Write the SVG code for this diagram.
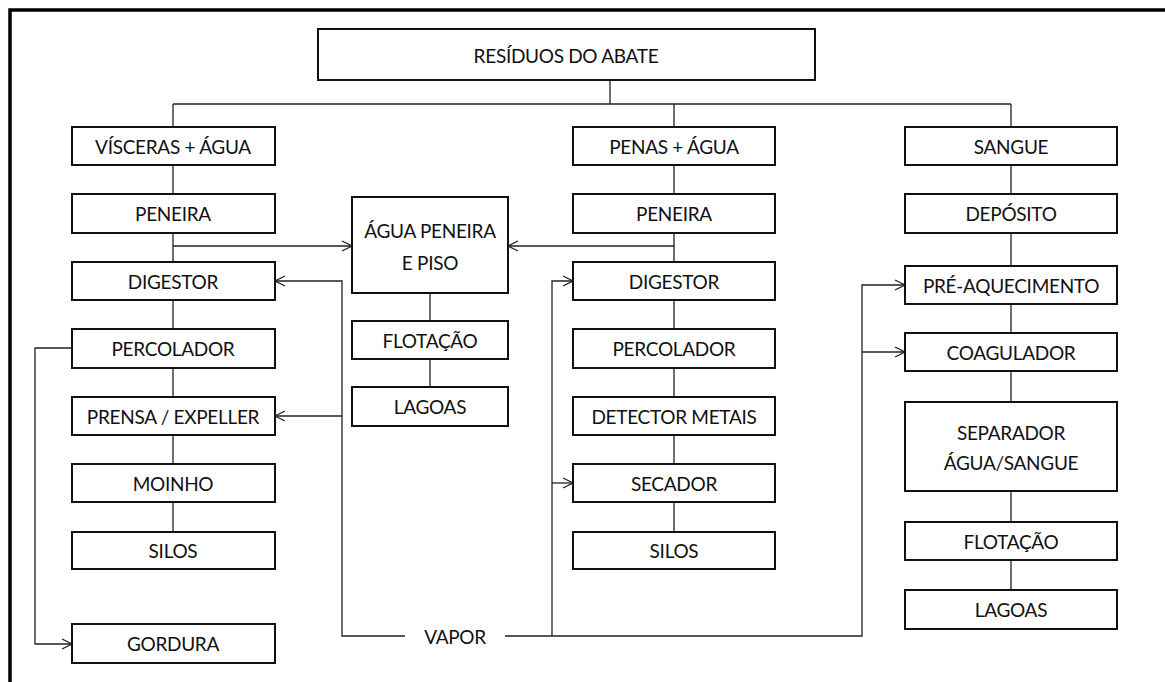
<svg xmlns="http://www.w3.org/2000/svg" width="1165" height="682" viewBox="0 0 1165 682">
<defs>
<style>
.box{fill:#fff;stroke:#111;stroke-width:2}
.t{font-family:Lato,"Liberation Sans",sans-serif;font-size:19px;letter-spacing:-0.3px;fill:#111;text-anchor:middle;dominant-baseline:central}
.ln{fill:none;stroke:#222;stroke-width:1.3}
</style>
<marker id="ar" viewBox="0 0 12 12" refX="11" refY="6" markerWidth="12" markerHeight="12" markerUnits="userSpaceOnUse" orient="auto">
<path d="M1,1 L11,6 L1,11" fill="none" stroke="#222" stroke-width="1.3"/>
</marker>
</defs>
<rect width="1165" height="682" fill="#fff"/>
<path d="M10,690 V10 H1175" fill="none" stroke="#000" stroke-width="3.5"/>
<g id="connectors">
<path class="ln" d="M610,80 V104 M173,104 H1011 M173,104 V532 M674,104 V532 M1011,104 V590 M430,293 V387"/>
<path class="ln" d="M173,246 H352" marker-end="url(#ar)"/>
<path class="ln" d="M674,246 H508" marker-end="url(#ar)"/>
<path class="ln" d="M405,636 H342 V281 H275" marker-end="url(#ar)"/>
<path class="ln" d="M342,416 H275" marker-end="url(#ar)"/>
<path class="ln" d="M505,636 H862 V285 H905" marker-end="url(#ar)"/>
<path class="ln" d="M862,352 H905" marker-end="url(#ar)"/>
<path class="ln" d="M552,636 V281 H573" marker-end="url(#ar)"/>
<path class="ln" d="M552,483 H573" marker-end="url(#ar)"/>
<path class="ln" d="M72,348 H35 V644 H72" marker-end="url(#ar)"/>
</g>
<g id="residuos"><rect class="box" x="318" y="29" width="497" height="51" stroke-width="2.5"/><text class="t" x="566" y="55">RESÍDUOS DO ABATE</text></g>
<g id="visceras"><rect class="box" x="72" y="127" width="203" height="38"/><text class="t" x="173" y="146">VÍSCERAS + ÁGUA</text></g>
<g id="peneira1"><rect class="box" x="72" y="194" width="203" height="39"/><text class="t" x="173" y="213">PENEIRA</text></g>
<g id="digestor1"><rect class="box" x="72" y="262" width="203" height="38"/><text class="t" x="173" y="281">DIGESTOR</text></g>
<g id="percolador1"><rect class="box" x="72" y="329" width="203" height="39"/><text class="t" x="173" y="348">PERCOLADOR</text></g>
<g id="prensa"><rect class="box" x="72" y="397" width="203" height="38"/><text class="t" x="173" y="416">PRENSA / EXPELLER</text></g>
<g id="moinho"><rect class="box" x="72" y="464" width="203" height="38"/><text class="t" x="173" y="483">MOINHO</text></g>
<g id="silos1"><rect class="box" x="72" y="532" width="203" height="37"/><text class="t" x="173" y="550">SILOS</text></g>
<g id="gordura"><rect class="box" x="72" y="624" width="203" height="39"/><text class="t" x="173" y="643">GORDURA</text></g>
<g id="agua"><rect class="box" x="352" y="197" width="156" height="96"/><text class="t" x="430" y="230">ÁGUA PENEIRA</text><text class="t" x="430" y="262">E PISO</text></g>
<g id="flotacao1"><rect class="box" x="352" y="321" width="156" height="38"/><text class="t" x="430" y="340">FLOTAÇÃO</text></g>
<g id="lagoas1"><rect class="box" x="352" y="387" width="156" height="39"/><text class="t" x="430" y="406">LAGOAS</text></g>
<g id="penas"><rect class="box" x="573" y="127" width="202" height="38"/><text class="t" x="674" y="146">PENAS + ÁGUA</text></g>
<g id="peneira2"><rect class="box" x="573" y="194" width="202" height="39"/><text class="t" x="674" y="213">PENEIRA</text></g>
<g id="digestor2"><rect class="box" x="573" y="262" width="202" height="38"/><text class="t" x="674" y="281">DIGESTOR</text></g>
<g id="percolador2"><rect class="box" x="573" y="329" width="202" height="39"/><text class="t" x="674" y="348">PERCOLADOR</text></g>
<g id="detector"><rect class="box" x="573" y="397" width="202" height="38"/><text class="t" x="674" y="416">DETECTOR METAIS</text></g>
<g id="secador"><rect class="box" x="573" y="464" width="202" height="38"/><text class="t" x="674" y="483">SECADOR</text></g>
<g id="silos2"><rect class="box" x="573" y="532" width="202" height="37"/><text class="t" x="674" y="550">SILOS</text></g>
<g id="sangue"><rect class="box" x="905" y="127" width="212" height="38"/><text class="t" x="1011" y="146">SANGUE</text></g>
<g id="deposito"><rect class="box" x="905" y="194" width="212" height="39"/><text class="t" x="1011" y="213">DEPÓSITO</text></g>
<g id="preaquec"><rect class="box" x="905" y="266" width="212" height="38"/><text class="t" x="1011" y="285">PRÉ-AQUECIMENTO</text></g>
<g id="coagulador"><rect class="box" x="905" y="333" width="212" height="38"/><text class="t" x="1011" y="352">COAGULADOR</text></g>
<g id="separador"><rect class="box" x="905" y="402" width="212" height="89"/><text class="t" x="1011" y="432">SEPARADOR</text><text class="t" x="1011" y="462">ÁGUA/SANGUE</text></g>
<g id="flotacao2"><rect class="box" x="905" y="522" width="212" height="38"/><text class="t" x="1011" y="541">FLOTAÇÃO</text></g>
<g id="lagoas2"><rect class="box" x="905" y="590" width="212" height="39"/><text class="t" x="1011" y="609">LAGOAS</text></g>
<g id="vapor"><text class="t" x="455" y="636">VAPOR</text></g>
</svg>
